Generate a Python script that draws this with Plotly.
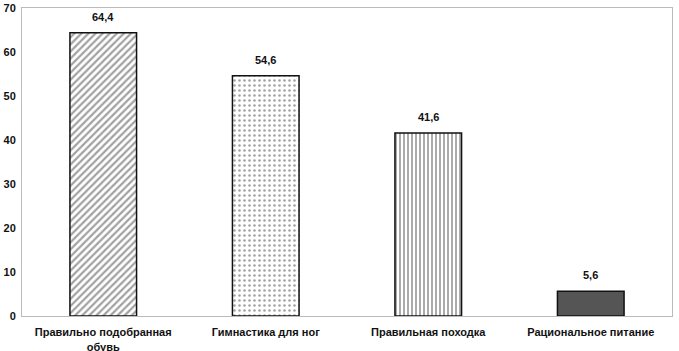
import plotly.graph_objects as go

categories = ["Правильно подобранная<br>обувь", "Гимнастика для ног", "Правильная походка", "Рациональное питание"]
values = [64.4, 54.6, 41.6, 5.6]
labels = ["64,4", "54,6", "41,6", "5,6"]
shapes_pat = ["/", ".", "|", ""]
fill_colors = ["white", "white", "white", "#555555"]
fg_colors = ["#111111", "#666666", "#111111", "#555555"]

fig = go.Figure()
fig.add_trace(go.Bar(
    x=categories, y=values,
    width=0.41,
    marker=dict(
        color=fill_colors,
        line=dict(color="#111111", width=1.5),
        pattern=dict(shape=shapes_pat, fgcolor=fg_colors, bgcolor=fill_colors,
                     size=[5, 5, 4, 6], solidity=[0.45, 0.2, 0.45, 0.3]),
    ),
))
for c, v, t in zip(categories, values, labels):
    fig.add_annotation(x=c, y=v, text="<b>%s</b>" % t, showarrow=False,
                       yanchor="bottom", yshift=8,
                       font=dict(family="Arial, Liberation Sans", size=11, color="#111111"))

fig.update_layout(
    width=679, height=351,
    margin=dict(l=22, r=7, t=8, b=35),
    paper_bgcolor="white", plot_bgcolor="white",
    showlegend=False,
    font=dict(family="Arial, Liberation Sans", size=11, color="#111111"),
    xaxis=dict(showgrid=False, showline=True, linecolor="#bbbbbb", mirror=True,
               ticks="", ticklabelstandoff=6, automargin=False,
               tickfont=dict(size=11, weight="bold")),
    yaxis=dict(range=[0, 70], dtick=10, showgrid=False, showline=True, linecolor="#bbbbbb",
               mirror=True, ticks="", ticklabelstandoff=3, automargin=False,
               tickfont=dict(size=11, weight="bold"), zeroline=False),
)
fig.write_html("out.html")
